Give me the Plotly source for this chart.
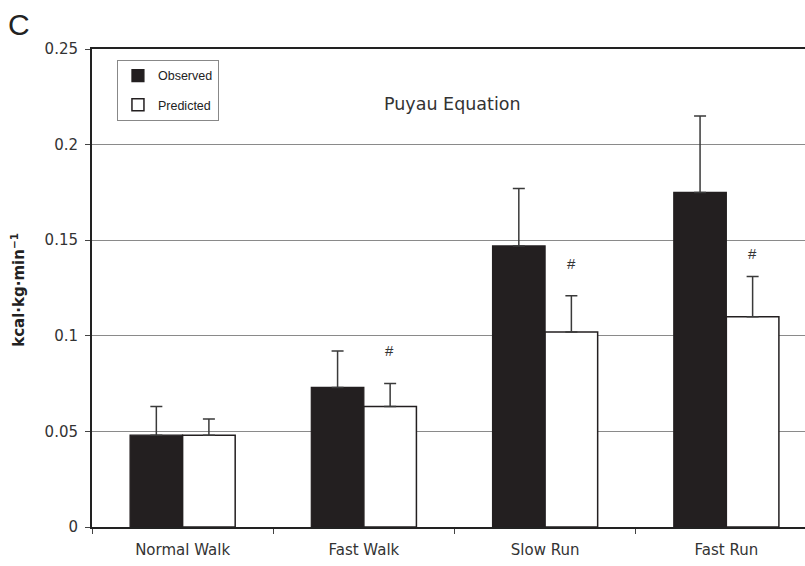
import plotly.graph_objects as go

categories = ["Normal Walk", "Fast Walk", "Slow Run", "Fast Run"]
observed = [0.048, 0.073, 0.147, 0.175]
observed_sd = [0.015, 0.019, 0.030, 0.040]
predicted = [0.048, 0.063, 0.102, 0.110]
predicted_sd = [0.0085, 0.012, 0.019, 0.021]
sig_marks = ["", "#", "#", "#"]
sig_y = [None, 0.0925, 0.138, 0.143]
y_ticks = [0, 0.05, 0.1, 0.15, 0.2, 0.25]
y_tick_text = ["0", "0.05", "0.1", "0.15", "0.2", "0.25"]

FONT = "Arial, Liberation Sans, sans-serif"
WIDE = "DejaVu Sans, sans-serif"
DARK = "#231f20"

fig = go.Figure()
fig.add_trace(go.Bar(
    x=categories, y=observed, name="Observed", legendgroup="a",
    marker=dict(color=DARK, line=dict(color=DARK, width=1.2)),
    error_y=dict(type="data", array=observed_sd, arrayminus=[0] * 4, symmetric=False,
                 color="#3a3a3a", thickness=1.5, width=6),
))
fig.add_trace(go.Bar(
    x=categories, y=predicted, name="Predicted", legendgroup="b",
    marker=dict(color="white", line=dict(color=DARK, width=1.5)),
    error_y=dict(type="data", array=predicted_sd, arrayminus=[0] * 4, symmetric=False,
                 color="#3a3a3a", thickness=1.5, width=6),
))

for i, (m, yv) in enumerate(zip(sig_marks, sig_y)):
    if m:
        fig.add_annotation(x=categories[i], y=yv, text=m, showarrow=False, xref="x", yref="y",
                           xshift=26, font=dict(size=15, color="#333", family=FONT))

fig.add_annotation(x=0.505, y=0.91, xref="paper", yref="paper", text="Puyau Equation",
                   showarrow=False, font=dict(size=17.5, color="#333", family=WIDE))
fig.add_annotation(x=-0.12, y=1.09, xref="paper", yref="paper", text="C", xanchor="left", yanchor="top",
                   showarrow=False, font=dict(size=30, color="#222", family=FONT))
fig.add_annotation(x=-0.104, y=0.496, xref="paper", yref="paper", text="<b>kcal·kg·min<sup>−1</sup></b>",
                   xanchor="center", yanchor="middle",
                   textangle=-90, showarrow=False, font=dict(size=15, color="#222", family=WIDE))

fig.update_layout(
    width=805, height=566,
    margin=dict(l=92, r=0, t=49, b=39),
    paper_bgcolor="white", plot_bgcolor="white",
    barmode="group", bargap=0.42, bargroupgap=0,
    font=dict(family=FONT, size=13, color="#333"),
    showlegend=True,
    legend=dict(x=0.035, y=0.977, xanchor="left", yanchor="top",
                bordercolor="#888", borderwidth=1, bgcolor="white",
                font=dict(size=12.5, color="#222", family=FONT), tracegroupgap=10, itemwidth=30),
    xaxis=dict(range=[-0.5, 3.434], showline=True, linecolor="#222", linewidth=2, mirror=True,
               ticks="outside", tickson="boundaries", ticklen=5, tickcolor="#444",
               ticklabelstandoff=8,
               showgrid=False, tickfont=dict(size=15, color="#333", family=WIDE)),
    yaxis=dict(range=[0, 0.25], tickvals=y_ticks, ticktext=y_tick_text,
               showline=True, linecolor="#222", linewidth=2,
               ticks="outside", ticklen=5, tickcolor="#444", ticklabelstandoff=4,
               showgrid=True, gridcolor="#8a8a8a", gridwidth=1, zeroline=False,
               tickfont=dict(size=15, color="#333", family=WIDE)),
)

fig.write_html("out.html")
